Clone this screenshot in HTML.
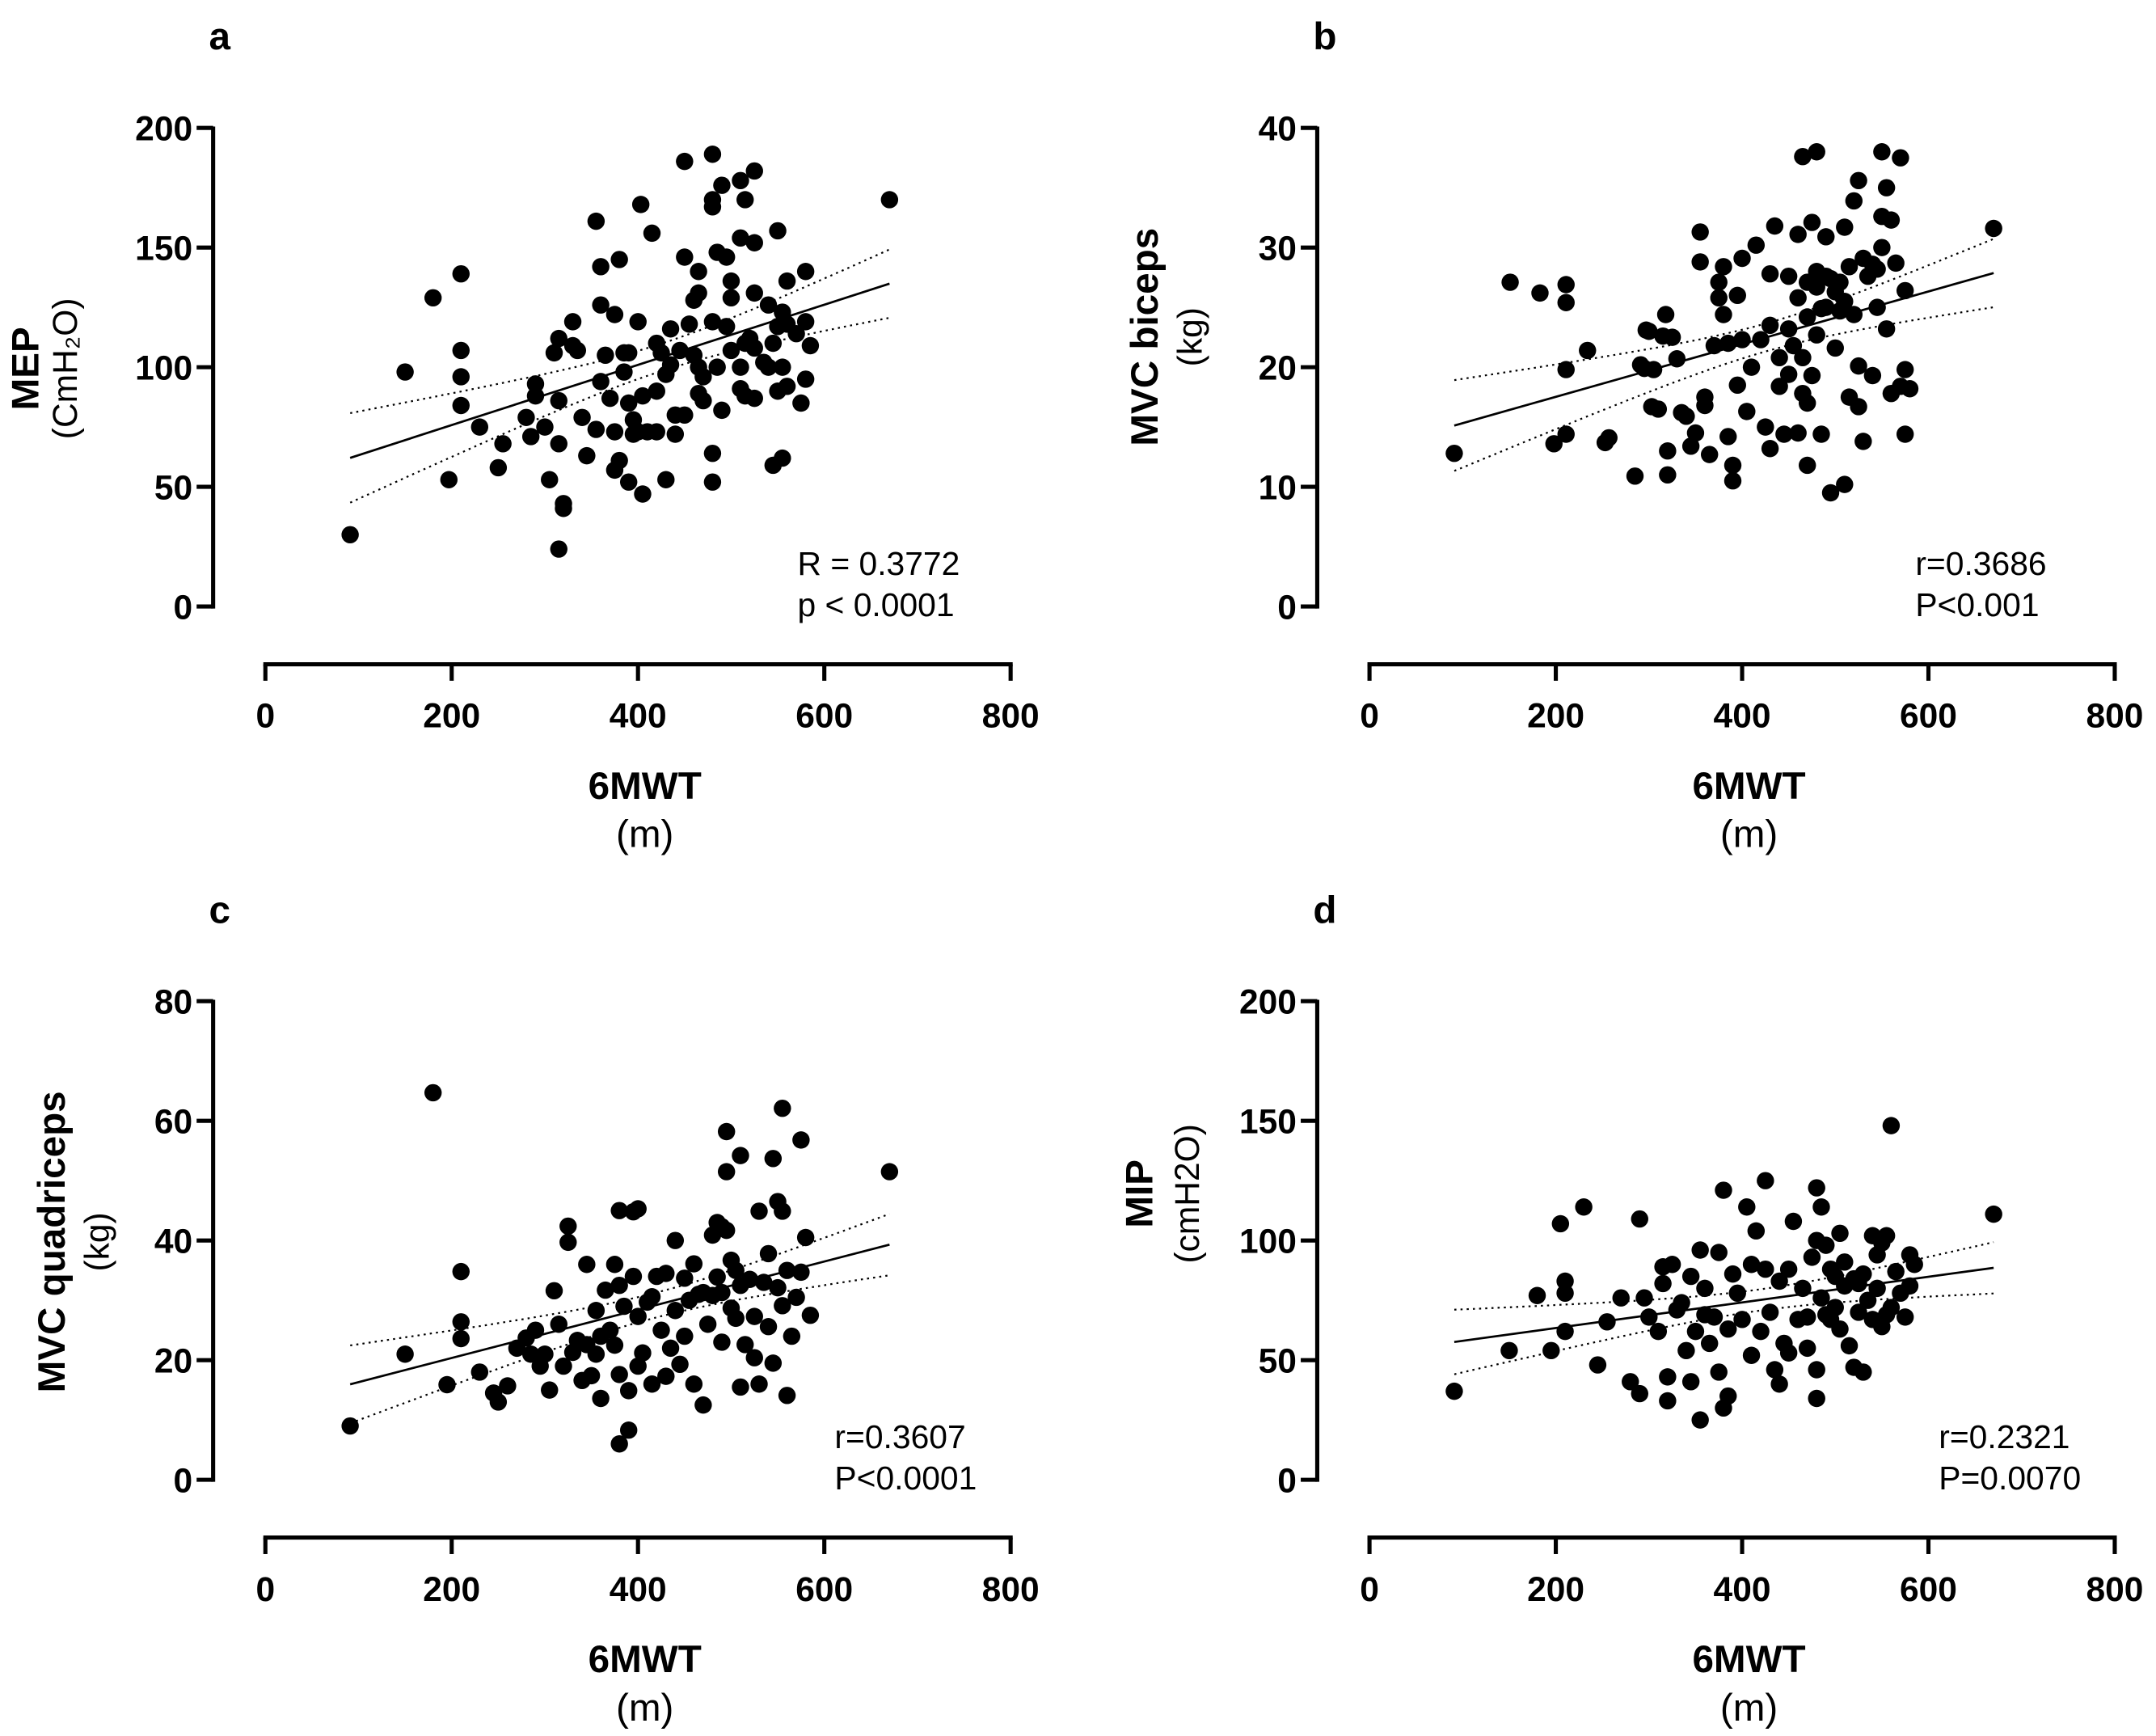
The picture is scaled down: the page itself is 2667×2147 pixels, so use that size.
<!DOCTYPE html>
<html><head><meta charset="utf-8"><style>
html,body{margin:0;padding:0;background:#fff}
svg{display:block}
text{font-family:"Liberation Sans",Arial,sans-serif;fill:#000}
</style></head><body>
<svg id="fig" width="2667" height="2147" viewBox="0 0 1568 1262.3" preserveAspectRatio="none" xmlns="http://www.w3.org/2000/svg"></svg>
<script>
const xTicks=[0,200,400,600,800];
const aX=[91,150,180,197,210,210,210,210,230,250,255,280,285,290,290,300,305,310,315,315,315,320,320,315,330,330,335,340,345,355,355,360,360,360,365,370,375,375,375,380,380,385,385,390,390,390,395,395,400,400,403,405,405,410,415,420,420,420,425,430,430,435,435,440,440,445,450,450,450,455,460,460,465,465,465,465,470,470,480,480,480,480,480,480,485,485,490,490,495,495,500,500,500,510,510,510,510,515,515,515,520,525,525,525,525,525,535,540,540,545,545,550,550,550,555,555,555,560,560,560,570,575,580,580,580,585,670];
const aY=[30,98,129,53,139,107,96,84,75,58,68,79,71,88,93,75,53,106,112,68,86,43,41,24,119,109,107,79,63,161,74,142,126,94,105,87,122,73,57,145,61,106,98,106,85,52,78,72,119,73,168,88,47,73,156,110,90,73,106,97,53,116,101,80,72,107,186,146,80,118,128,105,140,131,100,89,86,96,189,170,167,119,64,52,148,100,176,82,146,117,136,129,107,178,154,100,91,170,110,88,112,182,152,131,108,87,102,126,100,59,110,157,117,90,123,100,62,118,92,136,114,85,140,119,95,109,170];
const bX=[91,151,183,198,211,211,211,211,234,253,257,285,291,295,297,303,300,305,310,315,318,320,320,325,330,335,340,345,350,355,355,360,360,365,370,375,375,380,380,385,385,390,390,395,395,400,400,405,410,415,420,425,430,430,430,435,440,440,445,450,450,450,455,460,460,460,465,465,465,470,470,470,470,475,475,480,480,480,480,485,485,490,490,490,495,495,500,500,505,505,510,510,510,515,515,520,520,525,525,525,530,530,535,540,540,545,545,550,550,550,555,555,560,560,565,570,570,575,575,575,580,670];
const bY=[12.8,27.1,26.2,13.6,26.9,25.4,19.8,14.4,21.4,13.7,14.1,10.9,20.2,19.9,23.1,16.7,23,19.8,16.5,22.6,24.4,13,11,22.5,20.7,16.2,15.9,13.4,14.5,31.3,28.8,17.5,16.8,12.7,21.8,25.8,27.1,28.4,24.4,22,14.2,11.8,10.5,26,18.5,29.1,22.3,16.3,20,30.2,22.3,15,27.8,23.5,13.2,31.8,20.8,18.4,14.4,27.6,23.2,19.4,21.8,25.8,31.1,14.5,37.6,20.8,17.8,27.1,24.2,17,11.8,32.1,19.3,38,28,26.7,22.7,24.9,14.4,30.9,27.6,25,27.4,9.5,26.3,21.6,27.1,24.7,31.7,25.5,10.2,17.5,28.4,33.9,24.4,35.6,20.1,16.7,29.1,13.8,27.6,28.6,19.3,28.2,25,38,32.6,30,35,23.2,32.3,17.8,28.7,37.5,18.4,19.8,26.4,14.4,18.2,31.6];
const cX=[91,150,180,195,210,210,210,230,245,250,260,270,280,285,290,295,300,305,310,315,320,325,325,330,335,340,345,345,350,355,355,360,360,365,370,375,375,380,380,380,380,385,390,390,395,395,400,400,400,405,410,415,415,420,425,430,430,435,440,440,445,450,450,455,460,460,465,470,470,475,480,480,485,485,490,490,490,495,495,495,500,500,505,505,510,510,510,515,520,525,525,530,530,535,540,540,545,545,550,550,555,555,555,560,560,565,570,575,575,580,585,670];
const cY=[9,21,64.7,15.9,34.8,26.4,23.6,18,14.5,13,15.7,22,23.7,21,25,19,21,15,31.6,26,19,42.4,39.7,21.3,23.3,16.6,36,22.6,17.4,28.3,21,24,13.6,31.7,25,36,22.5,45,32.5,17.6,6,29,8.3,14.9,44.8,34,45.3,27.3,19,21.2,29.7,30.6,16,34,25,17.3,34.5,22,28.3,40,19.3,33.7,24,30,16,36.1,31,12.5,31.3,26,40.9,30.8,43,33.9,42.3,31.3,23,51.5,58.2,41.7,36.7,28.7,35,27,54.2,32.5,15.5,22.6,33.5,27.3,20.4,44.9,16,33,37.8,25.6,53.7,19.5,46.5,32.1,62.1,44.9,29.1,35,14.1,24,30.5,56.8,34.7,40.5,27.5,51.5];
const dX=[91,150,180,195,205,210,210,210,230,245,255,270,280,290,290,295,300,310,315,315,320,320,325,330,335,340,345,345,350,355,355,360,360,365,370,375,375,380,380,385,385,390,395,400,405,410,410,415,420,425,425,430,435,440,440,445,450,450,455,460,465,470,470,475,480,480,480,480,485,485,490,490,495,495,500,500,505,505,510,510,515,520,520,525,525,530,530,535,540,540,545,545,550,550,555,555,560,560,565,570,575,580,580,585,670];
const dY=[37,54,77,54,107,83,78,62,114,48,66,76,41,109,36,76,68,62,89,82,43,33,90,71,74,54,41,85,62,25,96,80,69,57,68,45,95,121,30,35,63,86,78,67,114,90,52,104,62,125,88,70,46,83,40,57,88,53,108,67,80,68,55,93,122,100,46,34,114,76,98,69,88,67,85,72,103,63,81,91,56,84,47,82,70,86,45,75,102,67,94,80,99,64,102,69,148,72,87,78,68,94,81,90,111];
const panels=[
 {id:'a',xs:aX,ys:aY,yMax:200,yTicks:[0,50,100,150,200],ox:0,oy:0,ytitle:'MEP',yunit:'(CmH\u2082O)',stat1:'R = 0.3772',stat2:'p < 0.0001',tx:580,tyc:268,yt1:28,yt2:56},
 {id:'b',xs:bX,ys:bY,yMax:40,yTicks:[0,10,20,30,40],ox:803,oy:0,ytitle:'MVC biceps',yunit:'(kg)',stat1:'r=0.3686',stat2:'P<0.001',tx:1393,tyc:245,yt1:842,yt2:874},
 {id:'c',xs:cX,ys:cY,yMax:80,yTicks:[0,20,40,60,80],ox:0,oy:635,ytitle:'MVC quadriceps',yunit:'(kg)',stat1:'r=0.3607',stat2:'P<0.0001',tx:607,tyc:903,yt1:47,yt2:79},
 {id:'d',xs:dX,ys:dY,yMax:200,yTicks:[0,50,100,150,200],ox:803,oy:635,ytitle:'MIP',yunit:'(cmH2O)',stat1:'r=0.2321',stat2:'P=0.0070',tx:1410,tyc:868,yt1:838,yt2:872}
];
const NS='http://www.w3.org/2000/svg';
const svg=document.getElementById('fig');
function mk(tag,attrs,parent,txt){const e=document.createElementNS(NS,tag);for(const k in attrs)e.setAttribute(k,attrs[k]);if(txt!==undefined)e.textContent=txt;(parent||svg).appendChild(e);return e;}
panels.forEach(p=>{
 const g=mk('g',{});
 
 
 const x0=193+p.ox,x1=735+p.ox,yAx=155+p.ox,yTop=93+p.oy,yBot=441+p.oy,xAxY=483+p.oy;
 const X=v=>x0+(v/800)*(x1-x0);
 const Y=v=>yBot-(v/p.yMax)*(yBot-yTop);
 const lab=mk('text',{x:152+p.ox,y:36+p.oy,'font-size':28,'font-weight':'bold'},g,p.id);
 
 
 const ya=mk('line',{x1:yAx,y1:yTop-1,x2:yAx,y2:yBot+1.5,stroke:'#000','stroke-width':3},g);
 
 
 p.yTicks.forEach(t=>{
  mk('line',{x1:yAx-12,y1:Y(t),x2:yAx,y2:Y(t),stroke:'#000','stroke-width':3},g);
  const tl=mk('text',{x:yAx-15,y:Y(t)+9,'font-size':25,'font-weight':'bold','text-anchor':'end'},g,t);
  
  
 });
 const xa=mk('line',{x1:x0-1.5,y1:xAxY,x2:x1+1.5,y2:xAxY,stroke:'#000','stroke-width':3},g);
 
 
 xTicks.forEach(t=>{
  mk('line',{x1:X(t),y1:xAxY,x2:X(t),y2:xAxY+12,stroke:'#000','stroke-width':3},g);
  const tl=mk('text',{x:X(t),y:xAxY+46,'font-size':25,'font-weight':'bold','text-anchor':'middle'},g,t);
  
  
 });
 const xt=mk('text',{x:(x0+x1)/2+5,y:xAxY+98,'font-size':28,'font-weight':'bold','text-anchor':'middle'},g,'6MWT');
 
 
 const xu=mk('text',{x:(x0+x1)/2+5,y:xAxY+133,'font-size':28,'text-anchor':'middle'},g,'(m)');
 
 
 const yt=mk('text',{x:p.yt1,y:p.tyc,'font-size':28,'font-weight':'bold','text-anchor':'middle',transform:`rotate(-90 ${p.yt1} ${p.tyc})`},g,p.ytitle);
 
 
 const yu=mk('text',{x:p.yt2,y:p.tyc,'font-size':25,'text-anchor':'middle',transform:`rotate(-90 ${p.yt2} ${p.tyc})`},g,p.yunit);
 
 
 const n=p.xs.length;let mx=0,my=0;for(let i=0;i<n;i++){mx+=p.xs[i];my+=p.ys[i];}mx/=n;my/=n;
 let sxx=0,sxy=0;for(let i=0;i<n;i++){sxx+=(p.xs[i]-mx)**2;sxy+=(p.xs[i]-mx)*(p.ys[i]-my);}
 const b=sxy/sxx,a=my-b*mx;let sse=0;for(let i=0;i<n;i++){sse+=(p.ys[i]-a-b*p.xs[i])**2;}
 const s=Math.sqrt(sse/(n-2)),tv=1.98;
 const xmin=Math.min(...p.xs),xmax=Math.max(...p.xs);
 let up='',lo='';
 for(let k=0;k<=40;k++){const xv=xmin+(xmax-xmin)*k/40;const hw=tv*s*Math.sqrt(1/n+(xv-mx)**2/sxx);const yv=a+b*xv;
  up+=(k?'L':'M')+X(xv).toFixed(1)+','+Y(yv+hw).toFixed(1);lo+=(k?'L':'M')+X(xv).toFixed(1)+','+Y(yv-hw).toFixed(1);}
 const fl=mk('line',{x1:X(xmin),y1:Y(a+b*xmin),x2:X(xmax),y2:Y(a+b*xmax),stroke:'#000','stroke-width':1.6},g);
 
 
 const cu=mk('path',{d:up,fill:'none',stroke:'#000','stroke-width':1.3,'stroke-dasharray':'1.5 3'},g);
 
 
 const cl=mk('path',{d:lo,fill:'none',stroke:'#000','stroke-width':1.3,'stroke-dasharray':'1.5 3'},g);
 
 
 for(let i=0;i<n;i++){
  const c=mk('circle',{cx:X(p.xs[i]),cy:Y(p.ys[i]),r:6.3,fill:'#000'},g);
  
  
 }
 const s1=mk('text',{x:p.tx,y:418+p.oy,'font-size':24},g,p.stat1);
 
 
 const s2=mk('text',{x:p.tx,y:448+p.oy,'font-size':24},g,p.stat2);
 
 
});
</script>
</body></html>
